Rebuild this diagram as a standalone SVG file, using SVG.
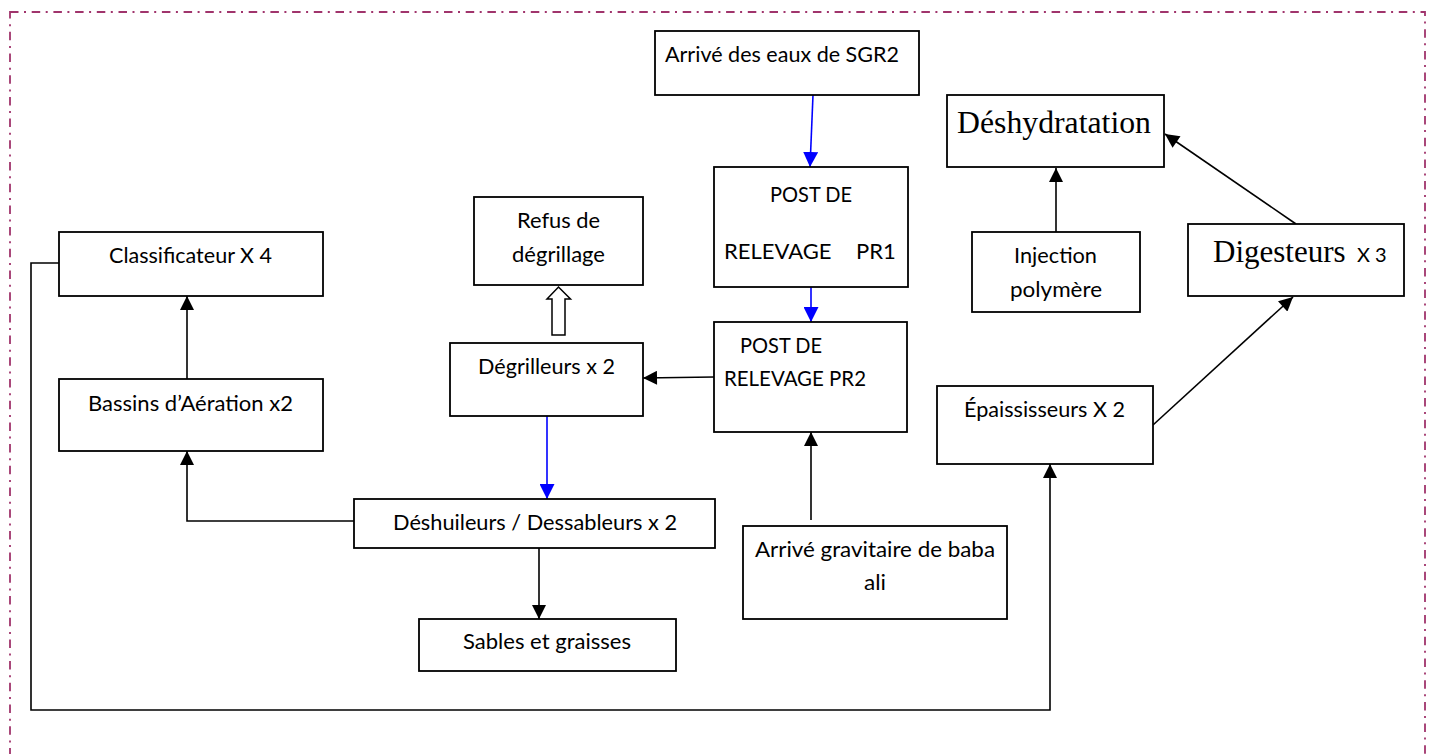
<svg xmlns="http://www.w3.org/2000/svg" width="1433" height="754" viewBox="0 0 1433 754">
<style>
.box{fill:#fff;stroke:#000;stroke-width:1.8}
.t{font-family:Lato,"Open Sans",sans-serif;font-size:22px;fill:#000}
.s{font-family:"Liberation Serif",serif;font-size:31px;fill:#000}
.c{fill:none;stroke:#000;stroke-width:1.6}
.b{fill:none;stroke:#0000ff;stroke-width:1.6}
</style>
<defs>
<marker id="ah" viewBox="0 0 10 10" markerUnits="userSpaceOnUse" markerWidth="15" markerHeight="14" refX="10" refY="5" orient="auto"><path d="M0,0 L10,5 L0,10 z" fill="#000"/></marker>
<marker id="ahb" viewBox="0 0 10 10" markerUnits="userSpaceOnUse" markerWidth="15" markerHeight="15" refX="10" refY="5" orient="auto"><path d="M0,0 L10,5 L0,10 z" fill="#0000ff"/></marker>
</defs>
<rect x="10" y="12" width="1415" height="780" fill="none" stroke="#a0346c" stroke-width="1.8" stroke-dasharray="8.5 5.5 2 5.7"/>
<g id="connectors">
<path class="b" d="M813,95 L810,167" marker-end="url(#ahb)"/>
<path class="b" d="M811,287 L811,322" marker-end="url(#ahb)"/>
<path class="c" d="M811,520 L811,432" marker-end="url(#ah)"/>
<path class="c" d="M714,377 L643,378" marker-end="url(#ah)"/>
<polygon points="552,335 552,299 547,299 558.5,287 570.5,299 565,299 565,335" fill="#fff" stroke="#000" stroke-width="1.5"/>
<path class="b" d="M547,416 L547,499" marker-end="url(#ahb)"/>
<path class="c" d="M539,548 L539,619" marker-end="url(#ah)"/>
<path class="c" d="M354,521 H187 V451" marker-end="url(#ah)"/>
<path class="c" d="M187,379 V296" marker-end="url(#ah)"/>
<path class="c" d="M59,263 H31 V710 H1050 V464" marker-end="url(#ah)"/>
<path class="c" d="M1153,425 L1293,297" marker-end="url(#ah)"/>
<path class="c" d="M1296,224 L1165,134" marker-end="url(#ah)"/>
<path class="c" d="M1056,232 L1056,168" marker-end="url(#ah)"/>
</g>
<g id="sgr2"><rect class="box" x="655" y="31" width="264" height="64"/><text class="t" x="665" y="62" textLength="234" lengthAdjust="spacingAndGlyphs">Arrivé des eaux de SGR2</text></g>
<g id="pr1"><rect class="box" x="714" y="167" width="194" height="120"/><text class="t" x="770" y="202" textLength="82" lengthAdjust="spacingAndGlyphs">POST DE</text><text class="t" x="724" y="259" xml:space="preserve">RELEVAGE  <tspan x="856">PR1</tspan></text></g>
<g id="pr2"><rect class="box" x="714" y="322" width="193" height="110"/><text class="t" x="740" y="353" textLength="82" lengthAdjust="spacingAndGlyphs">POST DE</text><text class="t" x="724" y="386" textLength="142" lengthAdjust="spacingAndGlyphs">RELEVAGE PR2</text></g>
<g id="gravitaire"><rect class="box" x="743" y="526" width="264" height="93"/><text class="t" x="755" y="557" textLength="240" lengthAdjust="spacingAndGlyphs">Arrivé gravitaire de baba</text><text class="t" x="864" y="590" textLength="22" lengthAdjust="spacingAndGlyphs">ali</text></g>
<g id="refus"><rect class="box" x="474" y="197" width="169" height="88"/><text class="t" x="517" y="228" textLength="83" lengthAdjust="spacingAndGlyphs">Refus de</text><text class="t" x="512" y="262" textLength="93" lengthAdjust="spacingAndGlyphs">dégrillage</text></g>
<g id="degrilleurs"><rect class="box" x="450" y="343" width="193" height="73"/><text class="t" x="478" y="374" textLength="137" lengthAdjust="spacingAndGlyphs">Dégrilleurs x 2</text></g>
<g id="deshuileurs"><rect class="box" x="354" y="499" width="361" height="49"/><text class="t" x="393" y="530" textLength="284" lengthAdjust="spacingAndGlyphs">Déshuileurs / Dessableurs x 2</text></g>
<g id="sables"><rect class="box" x="419" y="619" width="257" height="52"/><text class="t" x="463" y="649" textLength="168" lengthAdjust="spacingAndGlyphs">Sables et graisses</text></g>
<g id="bassins"><rect class="box" x="59" y="379" width="264" height="72"/><text class="t" x="88" y="411" textLength="205" lengthAdjust="spacingAndGlyphs">Bassins d’Aération x2</text></g>
<g id="classificateur"><rect class="box" x="59" y="232" width="264" height="64"/><text class="t" x="109" y="263" textLength="163" lengthAdjust="spacingAndGlyphs">Classificateur X 4</text></g>
<g id="epaississeurs"><rect class="box" x="937" y="386" width="216" height="78"/><text class="t" x="964" y="417" textLength="161" lengthAdjust="spacingAndGlyphs">Épaississeurs X 2</text></g>
<g id="injection"><rect class="box" x="972" y="232" width="168" height="80"/><text class="t" x="1014" y="263" textLength="83" lengthAdjust="spacingAndGlyphs">Injection</text><text class="t" x="1010" y="297" textLength="92" lengthAdjust="spacingAndGlyphs">polymère</text></g>
<g id="digesteurs"><rect class="box" x="1188" y="224" width="216" height="72"/><text class="s" x="1213" y="262">Digesteurs <tspan class="t" style="font-size:20px" x="1357">X 3</tspan></text></g>
<g id="deshydratation"><rect class="box" x="947" y="95" width="217" height="72"/><text class="s" x="957" y="133" textLength="194" lengthAdjust="spacingAndGlyphs">Déshydratation</text></g>
</svg>
